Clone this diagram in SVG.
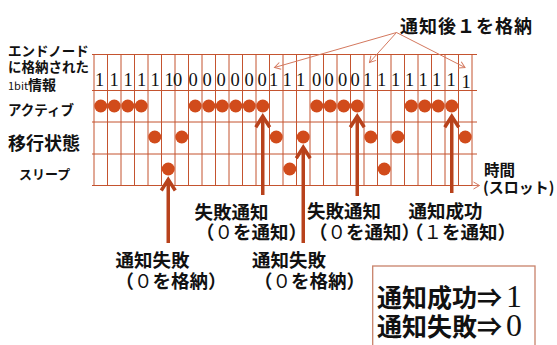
<svg xmlns="http://www.w3.org/2000/svg" width="557" height="345" viewBox="0 0 557 345">
<defs>
<style>
.jp{font-family:"Noto Sans CJK JP","Noto Sans",sans-serif;font-weight:700;fill:#111}
.n{font-weight:400}
.bit{font-family:"Liberation Serif",serif;font-size:18.5px;fill:#111;text-anchor:middle}
.ser{font-family:"Liberation Serif",serif;font-weight:400}
.g{stroke:#c4532f;stroke-width:1;fill:none}
.dot{fill:#d14b1b}
.big{stroke:#b8421c;stroke-width:3.5;fill:none;marker-end:url(#bigHead)}
.thin{stroke:#d4785e;stroke-width:1;fill:none;marker-end:url(#thinHead)}
</style>
<marker id="bigHead" markerUnits="userSpaceOnUse" viewBox="-14 -10 18 20" refX="0" refY="0" markerWidth="18" markerHeight="20" orient="auto">
<path d="M-11,-7 L0,0 L-11,7" fill="none" stroke="#b8421c" stroke-width="3.5"/>
</marker>
<marker id="thinHead" markerUnits="userSpaceOnUse" viewBox="-8 -5 10 10" refX="0" refY="0" markerWidth="10" markerHeight="10" orient="auto">
<path d="M-6,-3.5 L0,0 L-6,3.5" fill="none" stroke="#d4785e" stroke-width="1"/>
</marker>
</defs>
<rect width="557" height="345" fill="#fff"/>

<g id="grid">
<path class="g" d="M92,54.5H477M92,90.5H477M92,122H477M92,154H477"/>
<path class="g" d="M94,54.5V185.5M107.5,54.5V185.5M121,54.5V185.5M134.5,54.5V185.5M148,54.5V185.5M161.5,54.5V185.5M175,54.5V185.5M188.5,54.5V185.5M202,54.5V185.5M215.5,54.5V185.5M229,54.5V185.5M242.5,54.5V185.5M256,54.5V185.5M269.5,54.5V185.5M283,54.5V185.5M296.5,54.5V185.5M310,54.5V185.5M323.5,54.5V185.5M337,54.5V185.5M350.5,54.5V185.5M364,54.5V185.5M377.5,54.5V185.5M391,54.5V185.5M404.5,54.5V185.5M418,54.5V185.5M431.5,54.5V185.5M445,54.5V185.5M458.5,54.5V185.5M472,54.5V185.5"/>
<path class="g" d="M92,185.5H472"/>
<path class="thin" d="M472,185.5H479.5"/>
</g>

<g id="bits">
<text class="bit" x="99.5" y="86">1</text>
<text class="bit" x="114" y="86">1</text>
<text class="bit" x="128" y="86">1</text>
<text class="bit" x="141.5" y="86">1</text>
<text class="bit" x="155" y="86">1</text>
<text class="bit" x="169" y="86">1</text>
<text class="bit" x="177.5" y="86">0</text>
<text class="bit" x="193" y="86">0</text>
<text class="bit" x="207" y="86">0</text>
<text class="bit" x="221" y="86">0</text>
<text class="bit" x="235" y="86">0</text>
<text class="bit" x="249" y="86">0</text>
<text class="bit" x="262" y="86">0</text>
<text class="bit" x="273.5" y="86">1</text>
<text class="bit" x="287" y="86">1</text>
<text class="bit" x="300.5" y="86">1</text>
<text class="bit" x="316.5" y="86">0</text>
<text class="bit" x="329" y="86">0</text>
<text class="bit" x="342.5" y="86">0</text>
<text class="bit" x="355" y="86">0</text>
<text class="bit" x="367.5" y="86">1</text>
<text class="bit" x="381.5" y="86">1</text>
<text class="bit" x="395.5" y="86">1</text>
<text class="bit" x="409.5" y="86">1</text>
<text class="bit" x="423" y="86">1</text>
<text class="bit" x="436.5" y="86">1</text>
<text class="bit" x="451" y="86">1</text>
<text class="bit" x="466" y="88">1</text>
</g>

<g id="dots">
<circle class="dot" cx="100.75" cy="106" r="6.5"/>
<circle class="dot" cx="114.25" cy="106" r="6.5"/>
<circle class="dot" cx="127.75" cy="106" r="6.5"/>
<circle class="dot" cx="141.25" cy="106" r="6.5"/>
<circle class="dot" cx="154.75" cy="137" r="6.5"/>
<circle class="dot" cx="168.25" cy="169" r="6.5"/>
<circle class="dot" cx="181.75" cy="137" r="6.5"/>
<circle class="dot" cx="195.25" cy="106" r="6.5"/>
<circle class="dot" cx="208.75" cy="106" r="6.5"/>
<circle class="dot" cx="222.25" cy="106" r="6.5"/>
<circle class="dot" cx="235.75" cy="106" r="6.5"/>
<circle class="dot" cx="249.25" cy="106" r="6.5"/>
<circle class="dot" cx="262.75" cy="106" r="6.5"/>
<circle class="dot" cx="276.25" cy="137" r="6.5"/>
<circle class="dot" cx="289.75" cy="169" r="6.5"/>
<circle class="dot" cx="303.25" cy="137" r="6.5"/>
<circle class="dot" cx="316.75" cy="106" r="6.5"/>
<circle class="dot" cx="330.25" cy="106" r="6.5"/>
<circle class="dot" cx="343.75" cy="106" r="6.5"/>
<circle class="dot" cx="357.25" cy="106" r="6.5"/>
<circle class="dot" cx="370.75" cy="137" r="6.5"/>
<circle class="dot" cx="384.25" cy="169" r="6.5"/>
<circle class="dot" cx="397.75" cy="137" r="6.5"/>
<circle class="dot" cx="411.25" cy="106" r="6.5"/>
<circle class="dot" cx="424.75" cy="106" r="6.5"/>
<circle class="dot" cx="438.25" cy="106" r="6.5"/>
<circle class="dot" cx="451.75" cy="106" r="6.5"/>
<circle class="dot" cx="465.25" cy="137" r="6.5"/>
</g>

<g id="row-labels">
<text class="jp" x="8" y="55.5" font-size="13.5">エンドノード</text>
<text class="jp" x="8" y="72" font-size="13.5">に格納された</text>
<text class="jp" x="8" y="89.5" font-size="14"><tspan class="n" font-size="11">1bit</tspan>情報</text>
<text class="jp" x="8" y="114.5" font-size="13.5">アクティブ</text>
<text class="jp" x="8" y="150" font-size="18">移行状態</text>
<text class="jp" x="19" y="178.5" font-size="13">スリープ</text>
</g>

<g id="time-label">
<text class="jp" x="484" y="176" font-size="15.5">時間</text>
<text class="jp" x="483" y="193" font-size="15">(スロット)</text>
</g>

<g id="top-label">
<text class="jp" x="400" y="33" font-size="18" letter-spacing="1">通知後１を格納</text>
</g>

<g id="connectors">
<path class="big" d="M168.25,243V179.5"/>
<path class="big" d="M262.75,195V116.3"/>
<path class="big" d="M303.25,243V147.3"/>
<path class="big" d="M357.25,196V116.3"/>
<path class="big" d="M451.75,193V116.3"/>
<path class="thin" d="M396.5,32.5L274.5,67.5"/>
<path class="thin" d="M396.5,32.5L369.5,62.5"/>
<path class="thin" d="M396.5,32.5L465,67.5"/>
</g>

<g id="label-fail-store-1">
<text class="jp" font-size="18.5"><tspan x="115.5" y="267">通知失敗</tspan><tspan x="115.5" y="288">（<tspan class="n">０</tspan>を格納）</tspan></text>
</g>
<g id="label-fail-notify-1">
<text class="jp" font-size="18.5"><tspan x="194.5" y="219">失敗通知</tspan><tspan x="196" y="239">（<tspan class="n">０</tspan>を通知）</tspan></text>
</g>
<g id="label-fail-store-2">
<text class="jp" font-size="18.5"><tspan x="252" y="267">通知失敗</tspan><tspan x="254" y="288">（<tspan class="n">０</tspan>を格納）</tspan></text>
</g>
<g id="label-fail-notify-2">
<text class="jp" font-size="18.5"><tspan x="307" y="218">失敗通知</tspan><tspan x="309" y="238.5">（<tspan class="n">０</tspan>を通知）</tspan></text>
</g>
<g id="label-success">
<text class="jp" font-size="18.5"><tspan x="408.5" y="218">通知成功</tspan><tspan x="405" y="238.5">（<tspan class="n">１</tspan>を通知）</tspan></text>
</g>

<g id="legend">
<rect x="372.7" y="266" width="162.3" height="90" fill="none" stroke="#c8826a" stroke-width="1.3"/>
<text class="jp" font-size="25"><tspan x="377" y="307">通知成功⇒<tspan class="ser" font-size="32" dx="4">1</tspan></tspan><tspan x="377" y="336">通知失敗⇒<tspan class="ser" font-size="32" dx="4">0</tspan></tspan></text>
</g>
</svg>
